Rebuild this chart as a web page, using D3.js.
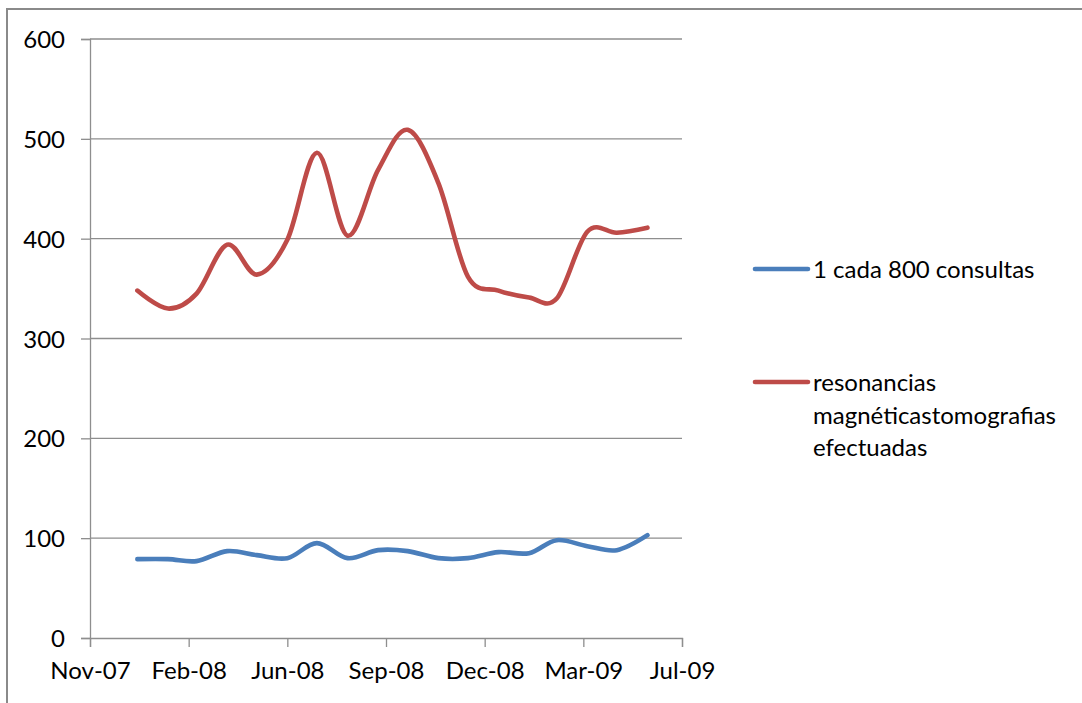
<!DOCTYPE html>
<html>
<head>
<meta charset="utf-8">
<script src="https://cdn.jsdelivr.net/npm/d3@7"></script>
<style>
  html, body { margin: 0; padding: 0; background: #fff; }
  svg { display: block; font-family: Lato, "Open Sans", sans-serif; }
</style>
</head>
<body>
<svg id="chart" width="1082" height="703"></svg>
<script>
// Monthly observations, Jan-2008 .. Jun-2009
const months = [
  "2008-01", "2008-02", "2008-03", "2008-04", "2008-05", "2008-06",
  "2008-07", "2008-08", "2008-09", "2008-10", "2008-11", "2008-12",
  "2009-01", "2009-02", "2009-03", "2009-04", "2009-05", "2009-06"
];
const consultas = [79, 79, 77, 87, 83, 80, 95, 80, 88, 87, 80, 80, 86, 85, 98, 92, 88, 103];
const resonancias = [348, 330, 345, 394, 364, 399, 486, 403, 469, 509, 456, 362, 348, 341, 340, 407, 406, 411];

// Axis ticks: one every 100 days starting at 14-Nov-2007
const tickDates = ["2007-11-14", "2008-02-22", "2008-06-01", "2008-09-09", "2008-12-18", "2009-03-28", "2009-07-06"];
const yTicks = [0, 100, 200, 300, 400, 500, 600];

const seriesColors = ["#4a7ebb", "#be4b48"];
const legendLines = [["1 cada 800 consultas"], ["resonancias", "magnéticastomografias", "efectuadas"]];

const parseMonth = d3.utcParse("%Y-%m");
const parseDay = d3.utcParse("%Y-%m-%d");
const fmt = d3.utcFormat("%b-%y");

const svg = d3.select("#chart");
const plot = { left: 90, right: 682, top: 39, bottom: 638 };
const fontSize = 24;

const ticks = tickDates.map(parseDay);
const x = d3.scaleUtc()
  .domain([ticks[0], ticks[ticks.length - 1]])
  .range([plot.left, plot.right]);
const y = d3.scaleLinear().domain([0, 600]).range([plot.bottom, plot.top]);

// outer chart frame (top and left edges visible)
svg.append("rect")
  .attr("x", 7).attr("y", 9)
  .attr("width", 1200).attr("height", 900)
  .attr("fill", "none").attr("stroke", "#8a8a8a").attr("stroke-width", 2);

// horizontal gridlines
svg.append("g")
  .selectAll("line")
  .data(yTicks.filter(v => v > 0))
  .join("line")
  .attr("x1", plot.left).attr("x2", plot.right)
  .attr("y1", d => y(d)).attr("y2", d => y(d))
  .attr("stroke", "#8e8e8e").attr("stroke-width", 1.3);

// y axis
const yAxis = svg.append("g")
  .attr("transform", `translate(${plot.left},0)`)
  .call(d3.axisLeft(y).tickValues(yTicks).tickSize(9).tickPadding(16).tickFormat(d3.format("d")));
yAxis.select(".domain").attr("stroke", "#8e8e8e").attr("stroke-width", 1.3);
yAxis.selectAll(".tick line").attr("stroke", "#8e8e8e").attr("stroke-width", 1.3);
yAxis.selectAll(".tick text").attr("font-size", fontSize).attr("fill", "#000")
  .attr("font-family", "Lato, sans-serif").attr("dy", "0.36em");

// x axis
const xAxis = svg.append("g")
  .attr("transform", `translate(0,${plot.bottom})`)
  .call(d3.axisBottom(x).tickValues(ticks).tickSize(9).tickPadding(15).tickFormat(fmt));
xAxis.select(".domain").attr("stroke", "#8e8e8e").attr("stroke-width", 1.3);
xAxis.selectAll(".tick line").attr("stroke", "#8e8e8e").attr("stroke-width", 1.3);
xAxis.selectAll(".tick text").attr("font-size", fontSize).attr("fill", "#000")
  .attr("font-family", "Lato, sans-serif");

// smoothed series lines
const line = d3.line()
  .x(d => x(d.date))
  .y(d => y(d.value))
  .curve(d3.curveCatmullRom.alpha(0));

[consultas, resonancias].forEach((vals, i) => {
  const pts = months.map((m, k) => ({ date: parseMonth(m), value: vals[k] }));
  svg.append("path")
    .datum(pts)
    .attr("d", line)
    .attr("fill", "none")
    .attr("stroke", seriesColors[i])
    .attr("stroke-width", 4.6)
    .attr("stroke-linecap", "round")
    .attr("stroke-linejoin", "round");
});

// legend
const legendY = [269, 382];
const legend = svg.append("g");
legendLines.forEach((lines, i) => {
  legend.append("line")
    .attr("x1", 755).attr("x2", 808)
    .attr("y1", legendY[i]).attr("y2", legendY[i])
    .attr("stroke", seriesColors[i]).attr("stroke-width", 4.6)
    .attr("stroke-linecap", "round");
  const t = legend.append("text")
    .attr("x", 813).attr("y", legendY[i] + 9)
    .attr("font-size", fontSize).attr("fill", "#000");
  lines.forEach((s, k) => {
    t.append("tspan").attr("x", 813).attr("dy", k === 0 ? 0 : 32.5).text(s);
  });
});
</script>
</body>
</html>
